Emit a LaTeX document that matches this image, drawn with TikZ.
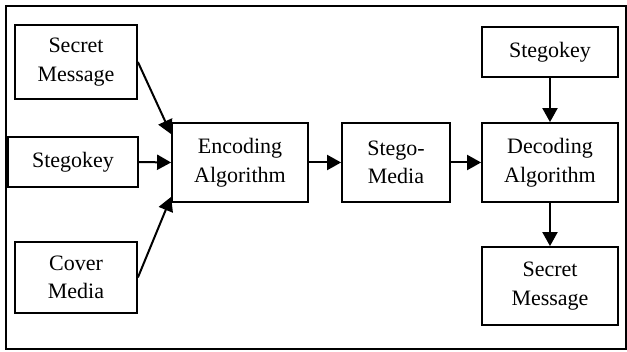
\documentclass[tikz,border=0pt]{standalone}
\usepackage{fontspec}
\setmainfont{Liberation Serif}
\usepackage{tikz}
\usetikzlibrary{arrows.meta}

\begin{document}
\begin{tikzpicture}[x=1pt, y=-1pt,
    every node/.style={font=\fontsize{22}{28.5}\selectfont},
    blockbox/.style={draw, line width=1.8pt, align=center, inner sep=0pt},
    flow/.style={line width=2pt, -{Triangle[length=14pt, width=15pt]}}]
  \useasboundingbox (0,0) rectangle (627,352);
  % Outer frame
  \draw[line width=1.8pt] (6,6) rectangle (626,349);
  % Embedding side
  \node[blockbox, minimum width=122pt, minimum height=74pt] (msgin) at (76,62) {Secret\\Message};
  \node[blockbox, minimum width=130pt, minimum height=50pt] (keyin) at (73,162) {Stegokey};
  \node[blockbox, minimum width=122pt, minimum height=71pt] (cover) at (76,277.5) {Cover\\Media};
  \node[blockbox, minimum width=136pt, minimum height=79pt] (enc) at (240,162.5) {Encoding\\Algorithm};
  \node[blockbox, minimum width=108pt, minimum height=79pt] (stego) at (396,162.5) {Stego-\\Media};
  % Extraction side
  \node[blockbox, minimum width=136pt, minimum height=79pt] (dec) at (550,162.5) {Decoding\\Algorithm};
  \node[blockbox, minimum width=136pt, minimum height=50pt] (keyout) at (550,52) {Stegokey};
  \node[blockbox, minimum width=136pt, minimum height=78pt] (msgout) at (550,286) {Secret\\Message};
  % Connectors
  \draw[flow] (msgin.east) -- ([yshift=-12pt]enc.north west);
  \draw[flow] (keyin.east) -- (enc.west);
  \draw[flow] (cover.east) -- ([yshift=6pt]enc.south west);
  \draw[flow] (enc) -- (stego);
  \draw[flow] (stego) -- (dec);
  \draw[flow] (keyout) -- (dec);
  \draw[flow] (dec) -- (msgout);
\end{tikzpicture}
\end{document}
